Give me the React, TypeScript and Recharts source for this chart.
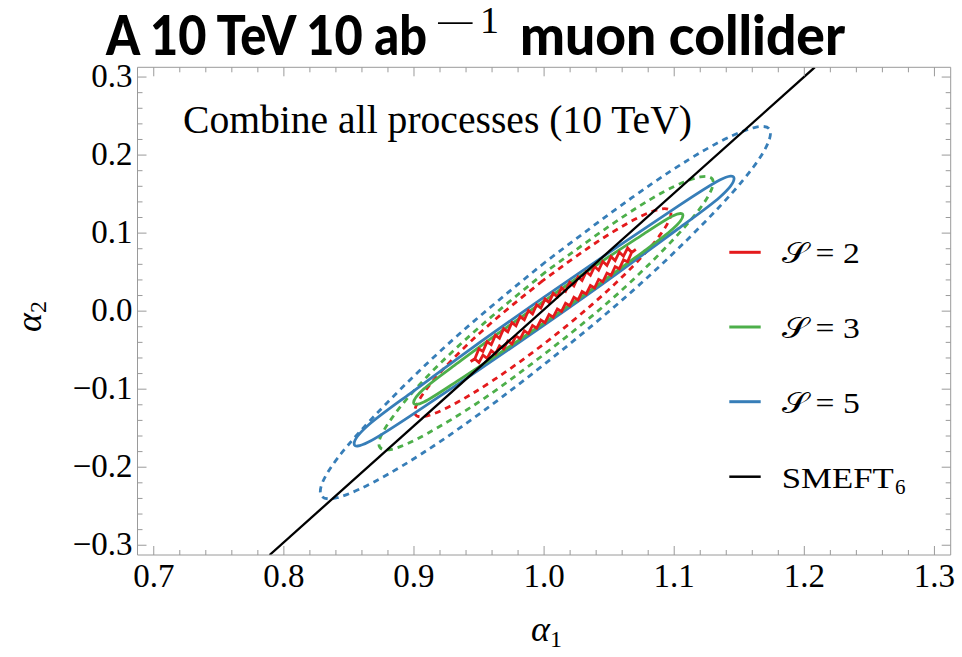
import React from "react";
import { Line, LineChart, XAxis, YAxis } from "recharts";

const RED = "#E41A1C";
const GREEN = "#4DAF4A";
const BLUE = "#377EB8";
const FRAME = "#9a9a9a";
const SERIF = "'Liberation Serif', 'DejaVu Serif', serif";
const TITLE_FONT = "Lato, 'Open Sans', sans-serif";

// axis ranges (Mathematica-style padding around the ticks)
const xDomain: [number, number] = [0.6875, 1.3125];
const yDomain: [number, number] = [-0.3125, 0.3125];

const xTicks = [
  0.7, 0.72, 0.74, 0.76, 0.78, 0.8, 0.82, 0.84, 0.86, 0.88, 0.9, 0.92, 0.94,
  0.96, 0.98, 1.0, 1.02, 1.04, 1.06, 1.08, 1.1, 1.12, 1.14, 1.16, 1.18, 1.2,
  1.22, 1.24, 1.26, 1.28, 1.3,
];
const yTicks = [
  -0.3, -0.28, -0.26, -0.24, -0.22, -0.2, -0.18, -0.16, -0.14, -0.12, -0.1,
  -0.08, -0.06, -0.04, -0.02, 0, 0.02, 0.04, 0.06, 0.08, 0.1, 0.12, 0.14, 0.16,
  0.18, 0.2, 0.22, 0.24, 0.26, 0.28, 0.3,
];

// contours, [alpha1, alpha2]
const blueDashed = [
  [1.001, 0.063], [0.935, -0.029], [0.879, -0.118], [0.841, -0.189],
  [0.828, -0.231], [0.841, -0.239], [0.879, -0.21], [0.935, -0.15],
  [1.001, -0.067], [1.068, 0.026], [1.124, 0.115], [1.161, 0.185],
  [1.174, 0.228], [1.161, 0.235], [1.124, 0.207], [1.068, 0.146],
  [1.001, 0.063],
];
const greenDashed = [
  [1.001, 0.05], [0.952, -0.018], [0.91, -0.084], [0.883, -0.137],
  [0.873, -0.17], [0.883, -0.177], [0.91, -0.157], [0.952, -0.114],
  [1.001, -0.054], [1.051, 0.014], [1.092, 0.079], [1.12, 0.132],
  [1.13, 0.165], [1.12, 0.172], [1.092, 0.153], [1.051, 0.11],
  [1.001, 0.05],
];
const redDashed = [
  [0.999, 0.039], [0.961, -0.0127], [0.929, -0.0628], [0.908, -0.1036],
  [0.9005, -0.129], [0.908, -0.135], [0.929, -0.1208], [0.961, -0.0885],
  [0.999, -0.043], [1.037, 0.0087], [1.069, 0.0588], [1.09, 0.0996],
  [1.0975, 0.125], [1.09, 0.131], [1.069, 0.117], [1.037, 0.0845],
  [0.999, 0.039],
];
const blueSolid = [
  [1.0, 0.018], [0.944, -0.048], [0.897, -0.1056], [0.865, -0.146],
  [0.854, -0.17], [0.865, -0.1678], [0.897, -0.1345], [0.944, -0.082],
  [1.0, -0.018], [1.056, 0.048], [1.103, 0.1056], [1.135, 0.146],
  [1.146, 0.17], [1.135, 0.168], [1.103, 0.1345], [1.056, 0.082],
  [1.0, 0.018],
];
const greenSolid = [
  [1.0032, 0.0168], [0.9636, -0.0298], [0.93, -0.0708], [0.9076, -0.0996],
  [0.8997, -0.1171], [0.9076, -0.1164], [0.93, -0.0932], [0.9636, -0.0564],
  [1.0032, -0.0112], [1.0428, 0.0354], [1.0764, 0.0764], [1.0988, 0.1052],
  [1.1067, 0.1227], [1.0988, 0.122], [1.0764, 0.0988], [1.0428, 0.062],
  [1.0032, 0.0168],
];
// the S=2 solid contour is jagged in the original
const redSolid = [
  [0.9435, -0.0645], [0.9467, -0.0613], [0.9499, -0.0483], [0.953, -0.0516],
  [0.9562, -0.0392], [0.9594, -0.043], [0.9626, -0.0308], [0.9657, -0.0347],
  [0.9689, -0.0226], [0.9721, -0.0266], [0.9753, -0.0146], [0.9784, -0.0187],
  [0.9816, -0.0069], [0.9848, -0.011], [0.988, 0.0008], [0.9911, -0.0036],
  [0.9943, 0.0082], [0.9975, 0.0039], [1.0007, 0.0155], [1.0038, 0.0112],
  [1.007, 0.0228], [1.0102, 0.0184], [1.0134, 0.0299], [1.0165, 0.0255],
  [1.0197, 0.037], [1.0229, 0.0324], [1.0261, 0.0438], [1.0292, 0.0392],
  [1.0324, 0.0505], [1.0356, 0.0459], [1.0388, 0.0572], [1.0419, 0.0524],
  [1.0451, 0.0636], [1.0483, 0.0587], [1.0515, 0.0698], [1.0546, 0.0648],
  [1.0578, 0.0756], [1.061, 0.0704], [1.0642, 0.0809], [1.0673, 0.0751],
  [1.0705, 0.0791],
  [1.0673, 0.0754], [1.0642, 0.0634], [1.061, 0.0657], [1.0578, 0.0543],
  [1.0546, 0.0571], [1.0515, 0.0459], [1.0483, 0.0488], [1.0451, 0.0377],
  [1.0419, 0.0407], [1.0388, 0.0297], [1.0356, 0.0328], [1.0324, 0.022],
  [1.0292, 0.0251], [1.0261, 0.0143], [1.0229, 0.0177], [1.0197, 0.0069],
  [1.0165, 0.0102], [1.0134, -0.0004], [1.0102, 0.0029], [1.007, -0.0077],
  [1.0038, -0.0043], [1.0007, -0.0148], [0.9975, -0.0114], [0.9943, -0.0219],
  [0.9911, -0.0183], [0.988, -0.0287], [0.9848, -0.0251], [0.9816, -0.0354],
  [0.9784, -0.0318], [0.9753, -0.0421], [0.9721, -0.0383], [0.9689, -0.0485],
  [0.9657, -0.0446], [0.9626, -0.0547], [0.9594, -0.0507], [0.9562, -0.0605],
  [0.953, -0.0563], [0.9499, -0.0658], [0.9467, -0.061], [0.9435, -0.0645],
];
const smeftLine = [
  [0.789, -0.3125],
  [1.208, 0.3125],
];

const legendLabels = ["𝒮 = 2", "𝒮 = 3", "𝒮 = 5"];
const legendColors = [RED, GREEN, BLUE];

type Contour = {
  key: string;
  pts: number[][];
  color: string;
  dashed: boolean;
  curve: "natural" | "linear";
};

const contours: Contour[] = [
  { key: "bd", pts: blueDashed, color: BLUE, dashed: true, curve: "natural" },
  { key: "gd", pts: greenDashed, color: GREEN, dashed: true, curve: "natural" },
  { key: "rd", pts: redDashed, color: RED, dashed: true, curve: "natural" },
  { key: "bs", pts: blueSolid, color: BLUE, dashed: false, curve: "natural" },
  { key: "gs", pts: greenSolid, color: GREEN, dashed: false, curve: "natural" },
  { key: "rs", pts: redSolid, color: RED, dashed: false, curve: "linear" },
  { key: "smeft", pts: smeftLine, color: "#000000", dashed: false, curve: "linear" },
];

const toPts = (arr: number[][]) => arr.map(([x, y]) => ({ x, y }));
const isMajor = (v: number) => Math.abs(v * 10 - Math.round(v * 10)) < 1e-6;
const fmt = (v: number) =>
  Math.abs(v) < 1e-9 ? "0.0" : v < 0 ? `\u2212${Math.abs(v).toFixed(1)}` : v.toFixed(1);

const MAJOR = 9;
const MINOR = 5;

function BottomTick(p: any) {
  const { x, y, payload } = p;
  const major = isMajor(payload.value);
  return (
    <g>
      <line x1={x} x2={x} y1={y} y2={y - (major ? MAJOR : MINOR)} stroke={FRAME} />
      {major && (
        <text x={x} y={y + 32} textAnchor="middle" fontFamily={SERIF} fontSize={33} fill="#000">
          {fmt(payload.value)}
        </text>
      )}
    </g>
  );
}

function TopTick(p: any) {
  const { x, y, payload } = p;
  const major = isMajor(payload.value);
  return <line x1={x} x2={x} y1={y} y2={y + (major ? MAJOR : MINOR)} stroke={FRAME} />;
}

function LeftTick(p: any) {
  const { x, y, payload } = p;
  const major = isMajor(payload.value);
  return (
    <g>
      <line x1={x} x2={x + (major ? MAJOR : MINOR)} y1={y} y2={y} stroke={FRAME} />
      {major && (
        <text x={x - 5} y={y + 10} textAnchor="end" fontFamily={SERIF} fontSize={33} fill="#000">
          {fmt(payload.value)}
        </text>
      )}
    </g>
  );
}

function RightTick(p: any) {
  const { x, y, payload } = p;
  const major = isMajor(payload.value);
  return <line x1={x} x2={x - (major ? MAJOR : MINOR)} y1={y} y2={y} stroke={FRAME} />;
}

function Overlay() {
  const legendY = [252.3, 327, 401.7];
  return (
    <svg
      width={962}
      height={657}
      style={{ position: "absolute", left: 0, top: 0, pointerEvents: "none" }}
    >
      {/* title */}
      <text
        x={106}
        y={55}
        fontFamily={TITLE_FONT}
        fontWeight={900}
        fontSize={56}
        textLength={321}
        lengthAdjust="spacingAndGlyphs"
      >
        A 10 TeV 10 ab
      </text>
      <text x={434} y={35} fontFamily={SERIF} fontSize={36} textLength={42} lengthAdjust="spacingAndGlyphs">
        {"\u2212"}
      </text>
      <text x={480} y={33} fontFamily={SERIF} fontSize={38}>
        1
      </text>
      <text
        x={520}
        y={55}
        fontFamily={TITLE_FONT}
        fontWeight={900}
        fontSize={56}
        textLength={325}
        lengthAdjust="spacingAndGlyphs"
      >
        muon collider
      </text>

      <text x={183} y={133} fontFamily={SERIF} fontSize={39} textLength={509} lengthAdjust="spacingAndGlyphs">
        Combine all processes (10 TeV)
      </text>

      {/* axis labels */}
      <text x={531} y={641} fontFamily={SERIF} fontSize={36}>
        <tspan fontStyle="italic">α</tspan>
        <tspan fontSize={24} dy={6}>1</tspan>
      </text>
      <text x={41} y={332} fontFamily={SERIF} fontSize={36} transform="rotate(-90 41 332)">
        <tspan fontStyle="italic">α</tspan>
        <tspan fontSize={24} dy={5}>2</tspan>
      </text>

      {/* legend */}
      {legendLabels.map((lab, i) => (
        <g key={lab}>
          <line x1={729.3} x2={760.7} y1={legendY[i]} y2={legendY[i]} stroke={legendColors[i]} strokeWidth={3} />
          <text x={781.7} y={legendY[i] + 11} fontFamily={SERIF} fontSize={29} textLength={78} lengthAdjust="spacingAndGlyphs">
            {lab}
          </text>
        </g>
      ))}
      <line x1={729.3} x2={760.7} y1={476.7} y2={476.7} stroke="#000" strokeWidth={2.5} />
      <text x={781.7} y={487.5} fontFamily={SERIF} fontSize={30} textLength={112} lengthAdjust="spacingAndGlyphs">
        SMEFT
      </text>
      <text x={895} y={494} fontFamily={SERIF} fontSize={21}>
        6
      </text>
    </svg>
  );
}

export default function App() {
  return (
    <div style={{ position: "absolute", left: 0, top: 0, width: 962, height: 657, background: "#fff" }}>
      <LineChart width={962} height={657} margin={{ top: 66.3, right: 10.3, bottom: 101, left: 136.5 }}>
        <XAxis
          xAxisId="bottom"
          dataKey="x"
          type="number"
          domain={xDomain}
          allowDataOverflow
          ticks={xTicks}
          interval={0}
          height={1}
          tickSize={0}
          tickMargin={0}
          axisLine={{ stroke: FRAME }}
          tick={(p: any) => <BottomTick {...p} />}
        />
        <XAxis
          xAxisId="top"
          orientation="top"
          dataKey="x"
          type="number"
          domain={xDomain}
          allowDataOverflow
          ticks={xTicks}
          interval={0}
          height={1}
          tickSize={0}
          tickMargin={0}
          axisLine={{ stroke: FRAME }}
          tick={(p: any) => <TopTick {...p} />}
        />
        <YAxis
          yAxisId="left"
          type="number"
          domain={yDomain}
          allowDataOverflow
          ticks={yTicks}
          interval={0}
          width={1}
          tickSize={0}
          tickMargin={0}
          axisLine={{ stroke: FRAME }}
          tick={(p: any) => <LeftTick {...p} />}
        />
        <YAxis
          yAxisId="right"
          orientation="right"
          type="number"
          domain={yDomain}
          allowDataOverflow
          ticks={yTicks}
          interval={0}
          width={1}
          tickSize={0}
          tickMargin={0}
          axisLine={{ stroke: FRAME }}
          tick={(p: any) => <RightTick {...p} />}
        />
        {contours.map((c) => (
          <Line
            key={c.key}
            xAxisId="bottom"
            yAxisId="left"
            data={toPts(c.pts)}
            dataKey="y"
            type={c.curve}
            stroke={c.color}
            strokeWidth={c.key === "smeft" ? 2.3 : 2.8}
            strokeDasharray={c.dashed ? "6 5" : undefined}
            dot={false}
            activeDot={false}
            isAnimationActive={false}
          />
        ))}
      </LineChart>
      <Overlay />
    </div>
  );
}
